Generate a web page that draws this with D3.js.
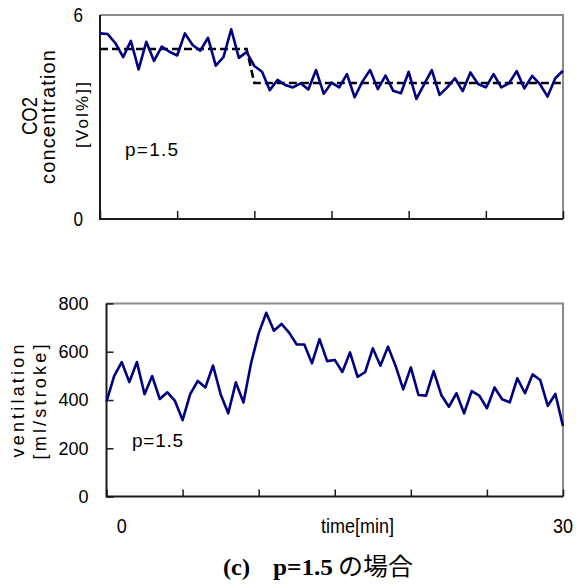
<!DOCTYPE html>
<html>
<head>
<meta charset="utf-8">
<script src="https://cdn.jsdelivr.net/npm/d3@7"></script>
<style>
  html, body { margin: 0; padding: 0; background: #fff; }
  svg { display: block; }
</style>
</head>
<body>
<script>
// CO2 concentration [Vol%], one sample every 0.5 min over 30 min
const co2 = [
  5.46, 5.44, 5.17, 4.76, 5.24, 4.40, 5.21, 4.65, 5.07, 4.92, 4.81,
  5.46, 5.12, 4.95, 5.33, 4.51, 4.76, 5.58, 4.74, 4.91, 4.50,
  4.33, 3.79, 4.09, 3.94, 3.87, 3.99, 3.81, 4.38, 3.68, 4.01,
  3.87, 4.26, 3.58, 4.04, 4.38, 3.82, 4.22, 3.77, 3.70, 4.33,
  3.53, 3.96, 4.38, 3.65, 3.87, 4.14, 3.76, 4.31, 3.97, 3.87,
  4.26, 3.87, 3.99, 4.35, 3.84, 4.21, 3.97, 3.60, 4.14, 4.36
];
// Ventilation [ml/stroke], same sampling
const ventilation = [
  393, 499, 557, 474, 557, 424, 499, 404, 432, 396, 317,
  424, 479, 452, 543, 424, 345, 473, 390, 552, 676,
  761, 687, 715, 679, 630, 630, 552, 652, 561, 566,
  516, 597, 496, 516, 614, 542, 621, 541, 444, 535,
  421, 418, 520, 421, 372, 428, 345, 437, 418, 366,
  452, 403, 390, 490, 428, 506, 483, 376, 425, 292
];
// Target CO2 level (dashed): time [min] and value [Vol%]
const targetTime = [0, 9.5, 10, 30];
const targetValue = [5, 5, 4, 4];

const co2Ticks = [0, 6];
const ventTicks = [0, 200, 400, 600, 800];
const timeTicks = [0, 5, 10, 15, 20, 25, 30];
const timeLabels = ["0", "time[min]", "30"];
const pLabel = "p=1.5";

const W = 576, H = 588;
const SANS = "'Liberation Sans', Arial, sans-serif";
const SERIF = "'Liberation Serif', 'Times New Roman', serif";
const CJK = "'Noto Sans CJK JP', sans-serif";
const NAVY = "#000080";
const FRAME_GREY = "#8a8a8a";
const AXIS_DARK = "#1a1a1a";

const svg = d3.select("body").append("svg")
  .attr("width", W).attr("height", H)
  .attr("viewBox", `0 0 ${W} ${H}`);

const step = 30 / (co2.length - 1);

function text(g, str, x, y, o = {}) {
  const t = g.append("text")
    .attr("font-family", o.family || SANS)
    .attr("font-size", o.size || 18)
    .attr("font-weight", o.weight || "normal")
    .attr("fill", o.fill || "#000")
    .attr("text-anchor", o.anchor || "start")
    .text(str);
  if (o.rotate) t.attr("transform", `translate(${x},${y}) rotate(-90)`);
  else t.attr("x", x).attr("y", y);
  if (o.len) t.attr("textLength", o.len).attr("lengthAdjust", o.adjust || "spacingAndGlyphs");
  return t;
}

function frame(g, x, y) {
  const [x0, x1] = x.range(), [y0, y1] = y.range();
  g.append("path")
    .attr("d", `M${x0},${y1}H${x1}V${y0}`)
    .attr("fill", "none").attr("stroke", FRAME_GREY).attr("stroke-width", 2);
  g.append("path")
    .attr("d", `M${x0},${y1}V${y0}H${x1}`)
    .attr("fill", "none").attr("stroke", AXIS_DARK).attr("stroke-width", 2);
}

// ---------- upper panel: CO2 concentration ----------
const xTop = d3.scaleLinear().domain([0, 30]).range([100, 563]);
const yTop = d3.scaleLinear().domain([0, 6]).range([219, 15]);
const gTop = svg.append("g");

frame(gTop, xTop, yTop);

gTop.append("g")
  .attr("transform", `translate(0,${yTop(0)})`)
  .call(d3.axisBottom(xTop).tickValues(timeTicks).tickSizeInner(-8).tickSizeOuter(0).tickFormat(""))
  .call(a => a.select(".domain").remove())
  .call(a => a.selectAll("line").attr("stroke", AXIS_DARK).attr("stroke-width", 1.5));

gTop.append("g")
  .attr("transform", `translate(${xTop(0)},0)`)
  .call(d3.axisLeft(yTop).tickValues(co2Ticks).tickSize(0).tickPadding(17).tickFormat(d3.format("d")))
  .call(a => a.select(".domain").remove())
  .call(a => a.selectAll("text")
    .attr("font-family", SANS).attr("font-size", 21).attr("fill", "#000")
    .attr("textLength", 9.5).attr("lengthAdjust", "spacingAndGlyphs"));

const targetLine = d3.line()
  .x((d, i) => xTop(targetTime[i]))
  .y(d => yTop(d));
gTop.append("path")
  .datum(targetValue)
  .attr("d", targetLine)
  .attr("fill", "none").attr("stroke", "#000")
  .attr("stroke-width", 2.5).attr("stroke-dasharray", "8,4");

const co2Line = d3.line()
  .x((d, i) => xTop(i * step))
  .y(d => yTop(d));
gTop.append("path")
  .datum(co2)
  .attr("d", co2Line)
  .attr("fill", "none").attr("stroke", NAVY)
  .attr("stroke-width", 2.6).attr("stroke-linejoin", "round");

text(gTop, "CO2", 37, 116, { rotate: true, anchor: "middle", size: 22, len: 38 });
text(gTop, "concentration", 55, 117, { rotate: true, anchor: "middle", size: 20, len: 134, adjust: "spacing" });
text(gTop, "[Vol%]]", 88, 115, { rotate: true, anchor: "middle", size: 17, len: 66, adjust: "spacing" });
text(gTop, pLabel, 125, 156, { size: 19, len: 53, adjust: "spacing" });

// ---------- lower panel: ventilation ----------
const xBot = d3.scaleLinear().domain([0, 30]).range([106.5, 563]);
const yBot = d3.scaleLinear().domain([0, 800]).range([496.6, 303.4]);
const gBot = svg.append("g");

frame(gBot, xBot, yBot);

gBot.append("g")
  .attr("transform", `translate(0,${yBot(0)})`)
  .call(d3.axisBottom(xBot).tickValues(timeTicks).tickSizeInner(-7).tickSizeOuter(0).tickFormat(""))
  .call(a => a.select(".domain").remove())
  .call(a => a.selectAll("line").attr("stroke", AXIS_DARK).attr("stroke-width", 1.5));

gBot.append("g")
  .attr("transform", `translate(${xBot(0)},0)`)
  .call(d3.axisLeft(yBot).tickValues(ventTicks).tickSizeInner(-7).tickSizeOuter(0).tickPadding(18))
  .call(a => a.select(".domain").remove())
  .call(a => a.selectAll("line").attr("stroke", AXIS_DARK).attr("stroke-width", 1.5))
  .call(a => a.selectAll("text")
    .attr("font-family", SANS).attr("font-size", 18).attr("fill", "#000"));

const ventLine = d3.line()
  .x((d, i) => xBot(i * step))
  .y(d => yBot(d));
gBot.append("path")
  .datum(ventilation)
  .attr("d", ventLine)
  .attr("fill", "none").attr("stroke", NAVY)
  .attr("stroke-width", 2.6).attr("stroke-linejoin", "round");

text(gBot, "ventilation", 24, 401, { rotate: true, anchor: "middle", size: 18, len: 113, adjust: "spacing" });
text(gBot, "[ml/stroke]", 46, 402, { rotate: true, anchor: "middle", size: 18, len: 115, adjust: "spacing" });
text(gBot, pLabel, 132, 447, { size: 19, len: 51, adjust: "spacing" });

// time axis labels under the lower panel
const timeLabelX = [xBot(1), xBot(16.5), xBot(30)];
const timeLabelLen = [10, 73, 20];
timeLabels.forEach((s, i) =>
  text(gBot, s, timeLabelX[i], 533, { anchor: "middle", size: 21, len: timeLabelLen[i] }));

// caption
const gCap = svg.append("g");
text(gCap, "(c)", 223, 575, { family: SERIF, weight: "bold", size: 23, len: 27 });
text(gCap, pLabel, 273, 575, { family: SERIF, weight: "bold", size: 23, len: 60 });
text(gCap, "の場合", 338, 575, { family: CJK, size: 24, len: 75 });
</script>
</body>
</html>
